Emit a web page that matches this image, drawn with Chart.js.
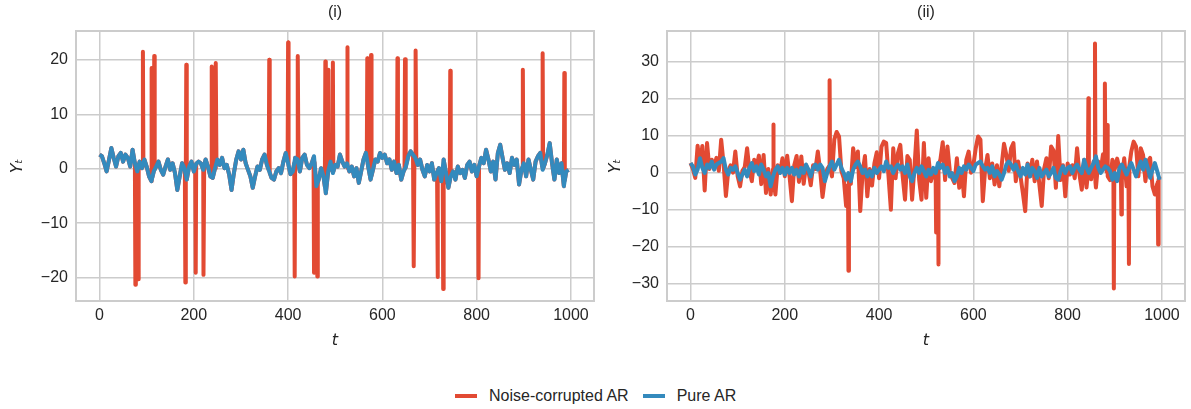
<!DOCTYPE html>
<html><head><meta charset="utf-8">
<script src="https://cdn.jsdelivr.net/npm/chart.js@4.4.1/dist/chart.umd.min.js"></script>
<style>
html,body{margin:0;padding:0;background:#fff;width:1191px;height:409px;overflow:hidden;}
canvas{position:absolute;top:0;}
#c1{left:0px}
#c2{left:591px}
#legend{position:absolute;left:455px;top:386px;height:20px;display:flex;align-items:center;font:16px "Liberation Sans",Arial,sans-serif;color:#262626;white-space:nowrap}
.sw{display:inline-block;width:22px;height:4px;margin-right:12px}
</style></head><body>
<canvas id="c1" width="600" height="360"></canvas>
<canvas id="c2" width="600" height="360"></canvas>
<div id="legend"></div>
<script>
// ---------- data ----------
const SERIES_NAMES = ['Noise-corrupted AR', 'Pure AR'];
const PANEL_TITLES = ['(i)', '(ii)'];
const T_STEP = 5; // digitised sampling step in t
const X_TICKS = [0, 200, 400, 600, 800, 1000];
const Y_TICKS_I = [-20, -10, 0, 10, 20];
const Y_TICKS_II = [-30, -20, -10, 0, 10, 20, 30];

// panel (i): pure AR
const pureI = [
2.6,2.3,1.0,-0.5,1.6,3.8,2.0,0.4,2.3,2.9,
1.3,2.6,2.0,0.4,3.5,1.0,-0.5,1.3,0.1,1.7,
0.4,-1.4,-2.3,-0.5,0.4,1.3,-0.2,-1.1,0.4,1.7,
-0.2,1.0,-0.8,-3.9,-1.4,1.0,0.1,-2.0,0.4,1.3,
-0.5,0.9,1.3,1.0,-0.2,1.7,0.4,-1.4,-1.7,0.1,
1.7,0.7,2.0,0.1,0.7,-1.1,-3.9,-0.8,1.7,3.2,
1.7,3.5,1.0,-0.2,-1.4,-3.5,-1.4,0.4,-0.2,1.7,
2.6,0.7,-0.5,-1.7,-2.0,-0.5,0.1,-0.8,1.3,2.9,
1.0,-1.0,-0.5,2.0,1.7,-0.5,2.0,2.6,0.7,0.1,
1.0,2.3,-3.2,-2.0,0.1,-1.4,-4.5,
-0.5,1.3,-0.8,0.7,0.4,2.6,1.3,0.4,1.0,-0.5,
0.4,-1.4,0.1,-2.6,-0.5,1.7,2.9,0.4,-2.0,-0.2,
1.7,1.3,2.9,2.0,2.6,1.0,1.7,-0.2,1.3,-0.8,
0.7,-2.0,-0.5,0.4,2.3,3.2,2.6,2.0,0.7,1.7,
-0.2,-1.4,0.7,-0.5,1.0,-2.0,-0.8,0.1,-2.3,1.7,
-0.8,-3.5,-1.4,-0.5,-2.0,0.4,-0.8,-0.2,-1.7,0.7,
1.3,-0.5,0.7,-1.4,0.4,2.0,1.0,3.5,1.7,-0.5,
1.3,-2.0,2.9,4.4,2.0,-0.2,1.0,-0.8,2.0,0.7,
1.7,-2.9,-0.2,1.0,-1.4,1.7,-0.2,-2.0,1.3,2.3,
2.9,-0.2,1.0,2.6,4.7,1.0,-2.0,1.7,-0.8,1.0,
-3.2,-0.5,-0.2
];
// panel (i): outlier instants and values of the noise-corrupted series
const outlierT_I = [76,82,92,111,116,182,184,204,221,238,247,360,400,414,421,455,462,479,486,495,526,568,576,632,648,667,671,717,729,744,804,898,940,986];
const outlierV_I = [-21.3,-20.3,21.5,18.5,20.7,-20.9,19.1,-19.1,-19.5,18.8,19.4,20.0,23.2,-19.8,20.7,-19.1,-19.8,19.7,18.2,19.5,22.3,20.3,20.9,20.3,20.1,-17.9,21.7,-19.9,-22.1,18.0,-20.1,18.2,21.2,17.6];

// panel (ii): pure AR
const pureII = [
2.6,1.7,-0.5,0.8,3.9,1.3,-0.1,2.2,1.3,3.0,
0.8,2.2,2.6,3.0,3.9,0.8,-0.5,1.3,0.8,1.7,
-0.1,-1.9,-0.5,0.8,-1.0,1.3,2.6,0.4,1.7,-0.5,
2.2,0.8,-1.0,-0.1,-3.7,-1.0,0.8,1.7,-0.1,1.3,
-0.5,1.3,-0.1,1.3,-0.5,0.8,-1.0,1.3,-0.1,2.2,
0.8,-1.0,1.3,2.2,0.8,2.2,1.3,-2.3,-0.1,1.7,
3.0,0.8,2.2,3.5,1.3,-0.1,-1.9,-0.1,-2.3,0.8,
2.2,3.0,1.7,-0.1,0.8,-1.0,0.4,-1.0,1.3,-0.1,
0.8,1.7,0.4,3.0,1.3,1.7,-0.1,1.3,2.2,0.8,
1.7,-0.1,2.2,-1.0,-2.3,-0.1,1.3,-0.1,1.7,0.4,
-1.0,0.8,-0.5,1.3,-0.1,2.6,1.3,2.2,-0.1,1.3,
-1.0,-0.1,-2.3,-1.0,1.3,-0.1,1.7,0.8,2.2,1.3,
0.4,2.2,2.6,3.0,1.7,0.8,1.3,-0.1,1.7,-1.0,
0.4,-0.5,-1.9,-0.1,2.2,3.0,2.2,0.8,2.2,0.4,
-1.0,1.3,-0.5,2.2,-1.0,1.3,0.4,-1.4,1.3,-1.0,
-0.1,0.8,-1.0,-0.1,1.3,-1.4,-1.9,0.4,1.7,-0.1,
1.3,1.7,-0.1,1.3,2.2,0.8,-0.1,3.5,1.3,-0.1,
1.3,2.6,4.4,1.3,-0.1,0.8,1.7,1.3,0.4,-1.9,
-0.1,-2.3,1.3,2.2,0.8,-0.5,1.3,2.6,0.8,-1.0,
1.3,3.0,0.8,3.5,1.3,-1.4,0.8,2.6,0.4,-1.9
];
// panel (ii): noise-corrupted AR (moderate-noise part)
const noisyII = [
2.6,1.0,-1.4,7.3,2.0,7.2,-4.8,8.0,1.0,3.5,
1.5,4.0,0.5,8.9,2.5,-6.3,0.5,2.0,0.0,5.7,
-1.0,-3.7,0.5,1.5,6.6,0.5,-2.3,3.5,1.5,4.6,
-3.1,4.8,-5.5,1.0,-5.9,1.0,-5.9,2.0,0.0,3.9,
-1.0,4.6,-1.0,-7.7,2.0,4.5,-2.5,4.4,-3.0,2.0,
0.5,-3.4,2.0,1.0,5.7,0.5,-6.6,-1.5,1.0,2.0,
-1.0,9.0,11.0,9.8,0.5,-1.5,-9.0,-2.0,-3.0,6.6,
1.5,5.7,-10.4,0.0,4.5,-6.4,1.0,-3.5,2.5,5.5,
-1.5,7.0,8.4,8.0,-1.0,-10.0,6.6,-1.5,5.3,7.5,
-1.0,-7.3,4.5,3.5,-7.3,1.5,11.4,-2.0,-7.3,8.0,
-6.8,3.9,-2.3,1.0,-2.0,1.0,3.5,8.2,-2.0,7.1,
0.5,-1.5,-2.8,3.9,-4.1,1.0,-6.4,3.5,5.7,0.0,
2.0,6.6,9.8,8.9,-7.7,1.0,4.8,-1.5,2.5,-3.2,
2.0,-3.7,2.0,7.8,4.8,0.5,6.6,8.0,-2.3,3.0,
-1.0,-5.5,-10.4,2.5,-1.0,3.5,-2.3,3.0,-3.2,-9.0,
1.0,3.9,-1.5,7.1,6.0,-4.1,9.9,-2.0,2.0,-6.4,
2.5,-0.5,2.0,-1.5,6.6,-0.5,-4.6,3.5,-4.0,2.0,
-1.8,3.0,-4.0,3.0,0.5,5.0,2.0,-1.0,-2.0,3.5,
1.0,3.8,1.0,-2.0,3.9,-3.7,1.0,5.7,8.4,7.1,
-1.0,6.6,4.8,-2.3,3.0,4.0,-3.7,-5.9,-3.0,-1.0
];
// panel (ii): large outliers of the noise-corrupted series
const outlierT_II = [176,295,335,521,526,844,858,879,884,898,914,930,992];
const outlierV_II = [13.0,25.0,-26.5,-16.2,-24.8,20.1,34.9,24.1,12.9,-31.3,-11.3,-24.7,-19.4];

// ---------- styling ----------
const RED = '#E24A33', BLUE = '#348ABD';
const FONT = '"Liberation Sans", Arial, sans-serif';
const MATH_FONT = '"DejaVu Sans", sans-serif';
const TXT = '#262626', GRID = '#cccccc';

function toPoints(values) { return values.map((y, i) => ({x: i * T_STEP, y})); }
// position of the drawn base line at time t (the series sits on it right next to an outlier)
function onLine(values, t) {
  const i = Math.max(0, Math.min(values.length - 1, Math.floor(t / T_STEP)));
  const j = Math.min(values.length - 1, i + 1);
  const f = (t - i * T_STEP) / T_STEP;
  return values[i] + (values[j] - values[i]) * f;
}
// series = base series except at the outlier instants (single-sample jumps)
function withOutliers(values, ts, vs) {
  const outSet = new Set(ts);
  const pts = toPoints(values).filter(p => !outSet.has(p.x));
  ts.forEach((t, i) => {
    pts.push({x: t, y: vs[i]});
    [t - 1, t + 1].forEach(n => { if (!outSet.has(n)) pts.push({x: n, y: onLine(values, n)}); });
  });
  pts.sort((a, b) => a.x - b.x);
  return pts;
}
const fmt = v => (v < 0 ? '\u2212' + Math.abs(v) : String(v));

const framePlugin = {
  id: 'frame',
  afterDatasetsDraw(chart) {
    const {ctx, chartArea: a} = chart;
    ctx.save();
    ctx.strokeStyle = GRID; ctx.lineWidth = 2;
    ctx.strokeRect(a.left, a.top, a.right - a.left, a.bottom - a.top);
    ctx.restore();
  }
};

function makeChart(id, title, redPts, bluePts, yMin, yMax, yTicks, yTitlePad) {
  const line = (label, data, color, order) => ({
    label, data, borderColor: color, backgroundColor: color, borderWidth: 4,
    pointRadius: 0, tension: 0, fill: false, borderJoinStyle: 'round', borderCapStyle: 'butt', order
  });
  return new Chart(document.getElementById(id), {
    type: 'line',
    data: { datasets: [ line(SERIES_NAMES[0], redPts, RED, 2), line(SERIES_NAMES[1], bluePts, BLUE, 1) ] },
    options: {
      responsive: false, animation: false, devicePixelRatio: 1,
      layout: { padding: { left: 0, right: 6, top: 0, bottom: 0 } },
      plugins: {
        legend: { display: false }, tooltip: { enabled: false },
        title: { display: true, text: title, fullSize: false, color: TXT,
                 font: { size: 16, family: FONT, weight: 'normal' }, padding: { top: 3.4, bottom: 8.4 } }
      },
      scales: {
        x: {
          type: 'linear', min: -49.95, max: 1048.95,
          afterBuildTicks: s => { s.ticks = X_TICKS.map(v => ({ value: v })); },
          afterFit: s => { s.height = 59; },
          grid: { color: GRID, lineWidth: 1.5, drawTicks: false },
          border: { display: false },
          ticks: { padding: 5, color: TXT, font: { size: 16, family: FONT }, callback: fmt, maxRotation: 0, autoSkip: false },
          title: { display: true, text: 't', color: TXT, font: { size: 16, family: MATH_FONT, style: 'italic' }, padding: { top: 0, bottom: 9.4 } }
        },
        y: {
          type: 'linear', min: yMin, max: yMax,
          afterBuildTicks: s => { s.ticks = yTicks.map(v => ({ value: v })); },
          afterFit: s => { s.width = 76; },
          grid: { color: GRID, lineWidth: 1.5, drawTicks: false },
          border: { display: false },
          ticks: { padding: 8, color: TXT, font: { size: 16, family: FONT }, callback: fmt, autoSkip: false },
          title: { display: true, text: 'Y\u209C', color: TXT, font: { size: 16, family: MATH_FONT, style: 'italic' }, padding: { top: yTitlePad, bottom: 0 } }
        }
      }
    },
    plugins: [framePlugin]
  });
}

makeChart('c1', PANEL_TITLES[0], withOutliers(pureI, outlierT_I, outlierV_I), toPoints(pureI), -24.3, 25.3, Y_TICKS_I, 8);
makeChart('c2', PANEL_TITLES[1], withOutliers(noisyII, outlierT_II, outlierV_II), toPoints(pureII), -34.7, 38.3, Y_TICKS_II, 15);

// legend (shared, below both panels)
const lg = document.getElementById('legend');
[[RED, SERIES_NAMES[0]], [BLUE, SERIES_NAMES[1]]].forEach(([c, name], i) => {
  const sw = document.createElement('span'); sw.className = 'sw'; sw.style.background = c;
  if (i > 0) sw.style.marginLeft = '14px';
  const tx = document.createElement('span'); tx.textContent = name;
  lg.appendChild(sw); lg.appendChild(tx);
});
</script>
</body></html>
